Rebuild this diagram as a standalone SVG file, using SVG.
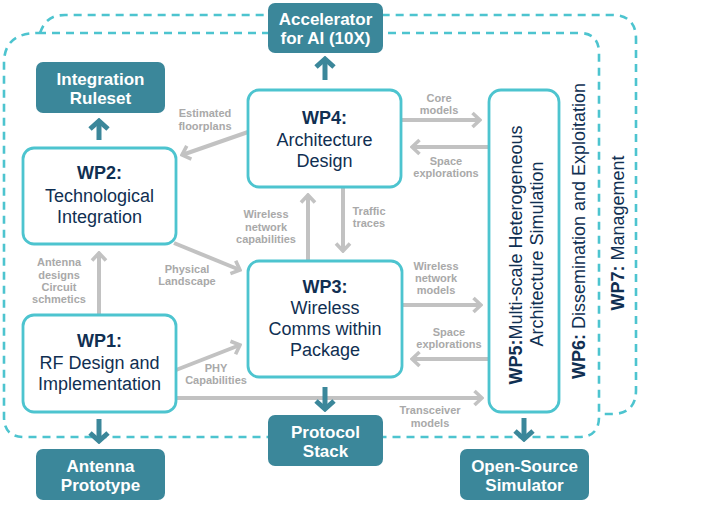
<svg xmlns="http://www.w3.org/2000/svg" width="720" height="532" viewBox="0 0 720 532">
<defs>
<style>
.dash{fill:none;stroke:#4dc4cf;stroke-width:2.6;stroke-dasharray:8 6}
.wp{fill:#ffffff;stroke:#4dc4cf;stroke-width:2.8}
.out{fill:#3b879a}
.ga{fill:none;stroke:#c2c2c2;stroke-width:4;marker-end:url(#gh)}
.ta{fill:none;stroke:#3b879a;stroke-width:5;marker-end:url(#th)}
.t{font-family:"Liberation Sans",Arial,sans-serif;font-size:18px;fill:#102f52;text-anchor:middle}
.b{font-weight:bold}
.o{font-family:"Liberation Sans",Arial,sans-serif;font-size:17px;font-weight:bold;fill:#ffffff;text-anchor:middle}
.l{font-family:"Liberation Sans",Arial,sans-serif;font-size:11px;font-weight:bold;fill:#a9a9a9;text-anchor:middle}
</style>
<marker id="gh" viewBox="-10 -10 12 20" refX="0" refY="0" markerWidth="12" markerHeight="20" orient="auto" markerUnits="userSpaceOnUse">
<path d="M-7.5 -7 L0 0 L-7.5 7" fill="none" stroke="#c2c2c2" stroke-width="3.6"/>
</marker>
<marker id="th" viewBox="-12 -13 15 26" refX="0" refY="0" markerWidth="15" markerHeight="26" orient="auto" markerUnits="userSpaceOnUse">
<path d="M-8 -9 L0 0 L-8 9" fill="none" stroke="#3b879a" stroke-width="5"/>
</marker>
</defs>

<g id="frames">
<path class="dash" d="M40 33 C44 22 50 15 65 15 H612 Q636 15 636 39 V390 Q636 414 612 414 H600"/>
<path class="dash" d="M38 33 H579 Q599 33 599 53 V417 Q599 437 579 437 H24 Q4 437 4 417 V63 Q4 33 38 33 Z"/>
</g>

<g id="connectors">
<path class="ga" d="M248 132 L182 155"/>
<path class="ga" d="M174 243 L240 270"/>
<path class="ga" d="M99 315 V253"/>
<path class="ga" d="M176 370 L240 345"/>
<path class="ga" d="M176 398 H482"/>
<path class="ga" d="M308 261 V195"/>
<path class="ga" d="M343 187 V251"/>
<path class="ga" d="M401 120 H480"/>
<path class="ga" d="M489 147 H412"/>
<path class="ga" d="M402 305 H481"/>
<path class="ga" d="M489 359 H412"/>
<path class="ta" d="M325 80 V59"/>
<path class="ta" d="M99 140 V121"/>
<path class="ta" d="M99 419 V441"/>
<path class="ta" d="M325 387 V409"/>
<path class="ta" d="M524 418 V439"/>
</g>

<g id="labels">
<text class="l" x="205" y="117">Estimated</text>
<text class="l" x="205" y="130">floorplans</text>
<text class="l" x="266" y="218">Wireless</text>
<text class="l" x="266" y="231">network</text>
<text class="l" x="266" y="243">capabilities</text>
<text class="l" x="369" y="215">Traffic</text>
<text class="l" x="369" y="227">traces</text>
<text class="l" x="439" y="102">Core</text>
<text class="l" x="439" y="114">models</text>
<text class="l" x="446" y="165">Space</text>
<text class="l" x="446" y="177">explorations</text>
<text class="l" x="59" y="266">Antenna</text>
<text class="l" x="59" y="279">designs</text>
<text class="l" x="59" y="291">Circuit</text>
<text class="l" x="59" y="303">schmetics</text>
<text class="l" x="187" y="273">Physical</text>
<text class="l" x="187" y="285">Landscape</text>
<text class="l" x="216" y="372">PHY</text>
<text class="l" x="216" y="384">Capabilities</text>
<text class="l" x="436" y="270">Wireless</text>
<text class="l" x="436" y="282">network</text>
<text class="l" x="436" y="294">models</text>
<text class="l" x="449" y="336">Space</text>
<text class="l" x="449" y="348">explorations</text>
<text class="l" x="430" y="414">Transceiver</text>
<text class="l" x="430" y="427">models</text>
</g>

<g id="wp2">
<rect class="wp" x="23" y="148" width="153" height="96" rx="11"/>
<text class="t b" x="99.5" y="179">WP2:</text>
<text class="t" x="99.5" y="202">Technological</text>
<text class="t" x="99.5" y="223">Integration</text>
</g>
<g id="wp4">
<rect class="wp" x="248" y="90" width="153" height="97" rx="11"/>
<text class="t b" x="324.5" y="124">WP4:</text>
<text class="t" x="324.5" y="146">Architecture</text>
<text class="t" x="324.5" y="167">Design</text>
</g>
<g id="wp3">
<rect class="wp" x="248" y="261" width="154" height="116" rx="11"/>
<text class="t b" x="325" y="293">WP3:</text>
<text class="t" x="325" y="314">Wireless</text>
<text class="t" x="325" y="335">Comms within</text>
<text class="t" x="325" y="356">Package</text>
</g>
<g id="wp1">
<rect class="wp" x="23" y="315" width="153" height="97" rx="11"/>
<text class="t b" x="99.5" y="347">WP1:</text>
<text class="t" x="99.5" y="369">RF Design and</text>
<text class="t" x="99.5" y="390">Implementation</text>
</g>
<g id="wp5">
<rect class="wp" x="489" y="90" width="70" height="322" rx="12"/>
<text class="t" transform="translate(522,255) rotate(-90)"><tspan class="b">WP5:</tspan>Multi-scale Heterogeneous</text>
<text class="t" transform="translate(543,254) rotate(-90)">Architecture Simulation</text>
</g>
<g id="wp6">
<text class="t" transform="translate(585,231) rotate(-90)"><tspan class="b">WP6:</tspan> Dissemination and Exploitation</text>
</g>
<g id="wp7">
<text class="t" transform="translate(624,233) rotate(-90)"><tspan class="b">WP7:</tspan> Management</text>
</g>

<g id="accelerator">
<rect class="out" x="268" y="3" width="115" height="50" rx="7"/>
<text class="o" x="325.5" y="25">Accelerator</text>
<text class="o" x="325.5" y="44">for AI (10X)</text>
</g>
<g id="integration-ruleset">
<rect class="out" x="36" y="62" width="129" height="51" rx="7"/>
<text class="o" x="100.5" y="85">Integration</text>
<text class="o" x="100.5" y="104">Ruleset</text>
</g>
<g id="antenna-prototype">
<rect class="out" x="36" y="449" width="129" height="51" rx="7"/>
<text class="o" x="100.5" y="472">Antenna</text>
<text class="o" x="100.5" y="491">Prototype</text>
</g>
<g id="protocol-stack">
<rect class="out" x="268" y="415" width="115" height="51" rx="7"/>
<text class="o" x="325.5" y="438">Protocol</text>
<text class="o" x="325.5" y="457">Stack</text>
</g>
<g id="open-source-simulator">
<rect class="out" x="460" y="449" width="129" height="51" rx="7"/>
<text class="o" x="524.5" y="472">Open-Source</text>
<text class="o" x="524.5" y="491">Simulator</text>
</g>
</svg>
